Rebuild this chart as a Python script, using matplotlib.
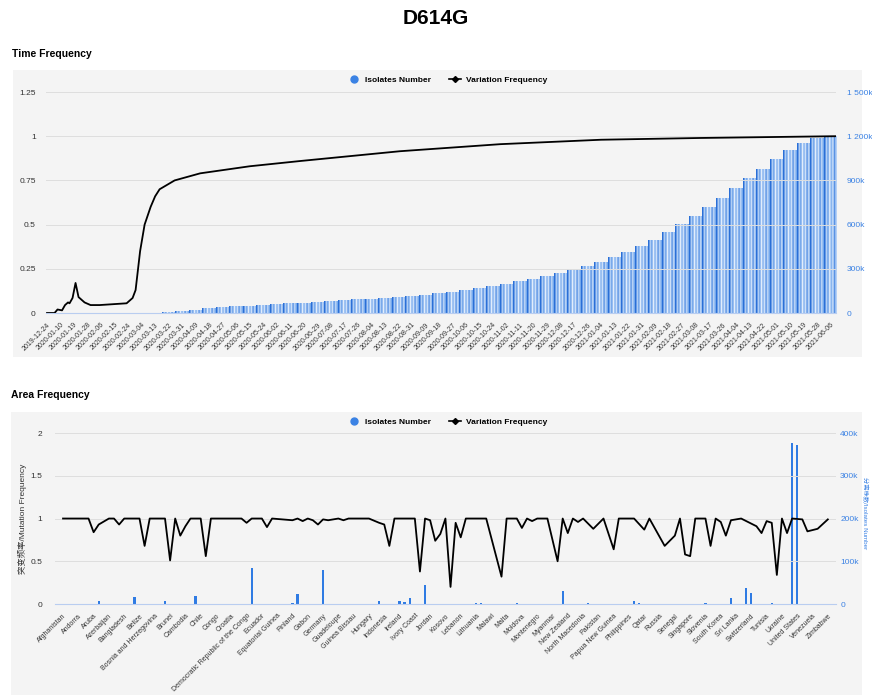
import numpy as np
import matplotlib.pyplot as plt
from matplotlib.lines import Line2D
from matplotlib.patches import Rectangle
from matplotlib.colors import LinearSegmentedColormap

plt.rcParams['font.family'] = ['Liberation Sans', 'Noto Sans CJK SC', 'DejaVu Sans']

# ---- Time Frequency data (one tick label every 9 days) ----
date_labels = [
    "2019-12-24", "2020-01-10", "2020-01-19", "2020-01-28", "2020-02-06", "2020-02-15",
    "2020-02-24", "2020-03-04", "2020-03-13", "2020-03-22", "2020-03-31", "2020-04-09",
    "2020-04-18", "2020-04-27", "2020-05-06", "2020-05-15", "2020-05-24", "2020-06-02",
    "2020-06-11", "2020-06-20", "2020-06-29", "2020-07-08", "2020-07-17", "2020-07-26",
    "2020-08-04", "2020-08-13", "2020-08-22", "2020-08-31", "2020-09-09", "2020-09-18",
    "2020-09-27", "2020-10-06", "2020-10-15", "2020-10-24", "2020-11-02", "2020-11-11",
    "2020-11-20", "2020-11-29", "2020-12-08", "2020-12-17", "2020-12-26", "2021-01-04",
    "2021-01-13", "2021-01-22", "2021-01-31", "2021-02-09", "2021-02-18", "2021-02-27",
    "2021-03-08", "2021-03-17", "2021-03-26", "2021-04-04", "2021-04-13", "2021-04-22",
    "2021-05-01", "2021-05-10", "2021-05-19", "2021-05-28", "2021-06-06",
]
# cumulative isolates (thousands) at each labelled date
isolates_k = [
    0, 0, 0, 0, 0, 0, 0, 0, 0, 6,
    13, 20, 28, 35, 42, 47, 52, 57, 62, 67,
    72, 77, 83, 89, 95, 101, 108, 115, 122, 130,
    140, 152, 165, 180, 195, 212, 230, 250, 270, 292,
    318, 345, 375, 410, 450, 495, 545, 600, 655, 715,
    780, 845, 910, 975, 1040, 1100, 1150, 1185, 1200,
]
# variation frequency: day index -> value
freq_day = [0, 5, 7, 10, 12, 14, 15, 17, 19, 21, 25, 29, 35, 44, 53, 57, 59, 62, 65,
            69, 72, 75, 85, 102, 135, 169, 235, 302, 369, 435, 480, 525]
freq_value = [0.0, 0.0, 0.02, 0.015, 0.045, 0.06, 0.055, 0.085, 0.17, 0.09, 0.06, 0.045,
              0.045, 0.05, 0.055, 0.085, 0.13, 0.35, 0.5, 0.6, 0.66, 0.7, 0.75, 0.79,
              0.83, 0.86, 0.915, 0.955, 0.98, 0.99, 0.995, 1.0]

# ---- Area Frequency data (one tick label every 3 countries) ----
countries = [
    "Afghanistan", "Andorra", "Aruba", "Azerbaijan", "Bangladesh", "Belize",
    "Bosnia and Herzegovina", "Brunei", "Cambodia", "Chile", "Congo", "Croatia",
    "Democratic Republic of the Congo", "Ecuador", "Equatorial Guinea", "Finland",
    "Gabon", "Germany", "Guadeloupe", "Guinea Bissau", "Hungary", "Indonesia",
    "Ireland", "Ivory Coast", "Jordan", "Kosovo", "Lebanon", "Lithuania", "Malawi",
    "Malta", "Moldova", "Montenegro", "Myanmar", "New Zealand", "North Macedonia",
    "Pakistan", "Papua New Guinea", "Philippines", "Qatar", "Russia", "Senegal",
    "Singapore", "Slovenia", "South Korea", "Sri Lanka", "Switzerland", "Tunisia",
    "Ukraine", "United States", "Venezuela", "Zimbabwe",
]
area_freq_idx = [0, 5, 6, 7, 9, 10, 11, 12, 15, 16, 17, 20, 21, 22, 23, 24, 25, 27, 28, 29,
                 35, 36, 37, 39, 40, 41, 45, 46, 47, 48, 49, 50, 51, 52, 54, 55, 56, 60,
                 62, 63, 64, 65, 69, 70, 71, 72, 73, 74, 75, 76, 77, 78, 79, 80, 83, 86,
                 87, 89, 90, 91, 92, 93, 95, 97, 98, 99, 100, 101, 102, 104, 106, 108,
                 109, 112, 114, 115, 118, 120, 121, 122, 123, 124, 126, 127, 128, 129,
                 130, 131, 133, 136, 137, 138, 139, 140, 141, 142, 143, 145, 146, 148, 150]
area_freq_value = [1.0, 1.0, 0.84, 0.93, 1.0, 1.0, 0.93, 1.0, 1.0, 0.68, 1.0, 1.0, 0.51,
                   1.0, 0.8, 0.91, 1.0, 1.0, 0.56, 1.0, 1.0, 0.95, 1.0, 1.0, 0.9, 1.0,
                   0.98, 1.0, 0.97, 1.0, 0.98, 0.93, 0.99, 0.98, 1.0, 0.98, 1.0, 1.0,
                   0.95, 0.93, 0.68, 1.0, 1.0, 0.38, 1.0, 0.98, 0.74, 0.82, 1.0, 0.2,
                   0.95, 0.78, 1.0, 1.0, 1.0, 0.32, 1.0, 1.0, 0.89, 1.0, 0.97, 1.0, 1.0,
                   0.5, 1.0, 0.83, 1.0, 0.96, 1.0, 0.88, 1.0, 0.64, 1.0, 1.0, 0.87, 1.0,
                   0.68, 0.8, 1.0, 0.58, 0.56, 1.0, 1.0, 0.68, 1.0, 0.96, 0.8, 0.98, 1.0,
                   0.91, 0.83, 0.97, 0.95, 0.34, 1.0, 0.83, 1.0, 0.99, 0.85, 0.88, 0.99]
area_bar_idx = [7, 8, 14, 20, 26, 35, 37, 45, 46, 51, 53, 61, 62, 66, 67, 68, 71, 77, 81,
                82, 89, 98, 103, 112, 113, 126, 129, 131, 134, 135, 139, 143, 144]
area_bar_k = [7, 1, 17, 7, 19, 1, 85, 2, 23, 80, 1, 1, 7, 7, 5, 14, 44, 0.5, 3, 3, 3, 30,
              3, 7, 3, 3, 1, 13, 38, 25, 3, 376, 372]

BLUE = '#3b82e4'
GRID = '#dedede'
AXIS = '#b9cdf0'
TXT = '#333333'

fig = plt.figure(figsize=(8.72, 6.97), dpi=100)
fig.patches.append(Rectangle((0.0149, 0.4878), 0.9736, 0.4118, transform=fig.transFigure,
                             facecolor='#f4f4f4', edgecolor='none', zorder=-5))
fig.patches.append(Rectangle((0.0126, 0.003), 0.976, 0.4059, transform=fig.transFigure,
                             facecolor='#f4f4f4', edgecolor='none', zorder=-5))

fig.text(0.5, 0.974, "D614G", ha='center', va='center', fontsize=15, fontweight='bold')
fig.text(0.014, 0.922, "Time Frequency", ha='left', va='center', fontsize=7.5, fontweight='bold')
fig.text(0.013, 0.433, "Area Frequency", ha='left', va='center', fontsize=7.5, fontweight='bold')

cmap = LinearSegmentedColormap.from_list('stripe', ['#2a6fd7', '#74a8ec', '#e6f0fd'])
stripe = np.array([[0.0, 0.8, 0.4, 1.0, 0.55, 0.9, 0.3, 0.85, 0.5]])


def style_axes(ax_l, ax_r):
    ax_l.set_zorder(ax_r.get_zorder() + 1)
    ax_l.patch.set_visible(False)
    ax_r.patch.set_visible(False)
    for a in (ax_l, ax_r):
        for s in a.spines.values():
            s.set_visible(False)
        a.tick_params(length=0)
    ax_l.spines['bottom'].set_visible(True)
    ax_l.spines['bottom'].set_color(AXIS)
    ax_l.spines['bottom'].set_linewidth(0.8)
    ax_l.grid(axis='y', color=GRID, lw=0.7)
    ax_l.set_axisbelow(True)


# ---- Time Frequency ----
ax1 = fig.add_axes([0.0522, 0.5509, 0.9065, 0.3171])
ax2 = ax1.twinx()
style_axes(ax1, ax2)

for i, v in enumerate(isolates_k):
    if v <= 0:
        continue
    x0 = 9 * i - 4.5
    ax2.imshow(stripe, extent=[x0, x0 + 9, 0, v * 1000], aspect='auto', cmap=cmap,
               interpolation='bilinear', zorder=2)

ax1.plot(freq_day, freq_value, color='black', lw=1.3, zorder=3)
ax1.set_xlim(-1, 525.5)
ax1.set_ylim(0, 1.25)
ax2.set_ylim(0, 1500000)
ax1.set_yticks([0, 0.25, 0.5, 0.75, 1, 1.25])
ax1.set_yticklabels(["0", "0.25", "0.5", "0.75", "1", "1.25"], fontsize=6, color=TXT)
ax2.set_yticks([0, 300000, 600000, 900000, 1200000, 1500000])
ax2.set_yticklabels(["0", "300k", "600k", "900k", "1 200k", "1 500k"], fontsize=6, color=BLUE)
ax1.tick_params(axis='y', pad=7)
ax2.tick_params(axis='y', pad=8)
ax1.set_xticks([9 * i for i in range(len(date_labels))])
ax1.set_xticklabels(date_labels, rotation=45, ha='right', rotation_mode='anchor',
                    fontsize=5, color=TXT)
ax1.tick_params(axis='x', pad=6)

# ---- Area Frequency ----
ax3 = fig.add_axes([0.0631, 0.1334, 0.8956, 0.2453])
ax4 = ax3.twinx()
style_axes(ax3, ax4)

ax4.bar(area_bar_idx, [k * 1000 for k in area_bar_k], width=0.45, color='#2f7be3', zorder=2)
ax3.plot(area_freq_idx, area_freq_value, color='black', lw=1.3, zorder=3)
ax3.set_xlim(-1.57, 151.6)
ax3.set_ylim(0, 2)
ax4.set_ylim(0, 400000)
ax3.set_yticks([0, 0.5, 1, 1.5, 2])
ax3.set_yticklabels(["0", "0.5", "1", "1.5", "2"], fontsize=6, color=TXT)
ax4.set_yticks([0, 100000, 200000, 300000, 400000])
ax4.set_yticklabels(["0", "100k", "200k", "300k", "400k"], fontsize=6, color=BLUE)
ax3.tick_params(axis='y', pad=9)
ax4.tick_params(axis='y', pad=3)
ax3.set_xticks([3 * i for i in range(len(countries))])
ax3.set_xticklabels(countries, rotation=45, ha='right', rotation_mode='anchor',
                    fontsize=5, color=TXT)
ax3.tick_params(axis='x', pad=6)
ax3.set_ylabel("突变频率/Mutation Frequency", fontsize=6, color=TXT)
ax3.yaxis.set_label_coords(-0.036, 0.5)
ax4.set_ylabel("分离株数/Isolates Number", fontsize=4.5, color=BLUE, rotation=270)
ax4.yaxis.set_label_coords(1.041, 0.53)

# ---- legends ----
handles = [Line2D([], [], marker='o', color=BLUE, ls='none', markersize=5),
           Line2D([], [], color='black', marker='D', markersize=3, lw=1.2)]
labels = ["Isolates Number", "Variation Frequency"]
for y in (0.885, 0.3946):
    fig.legend(handles, labels, loc='center', bbox_to_anchor=(0.513, y), ncol=2,
               frameon=False, prop={'weight': 'bold', 'size': 6}, handlelength=1.4,
               columnspacing=2.2, handletextpad=0.6)

fig.savefig("out.png", dpi=100)
